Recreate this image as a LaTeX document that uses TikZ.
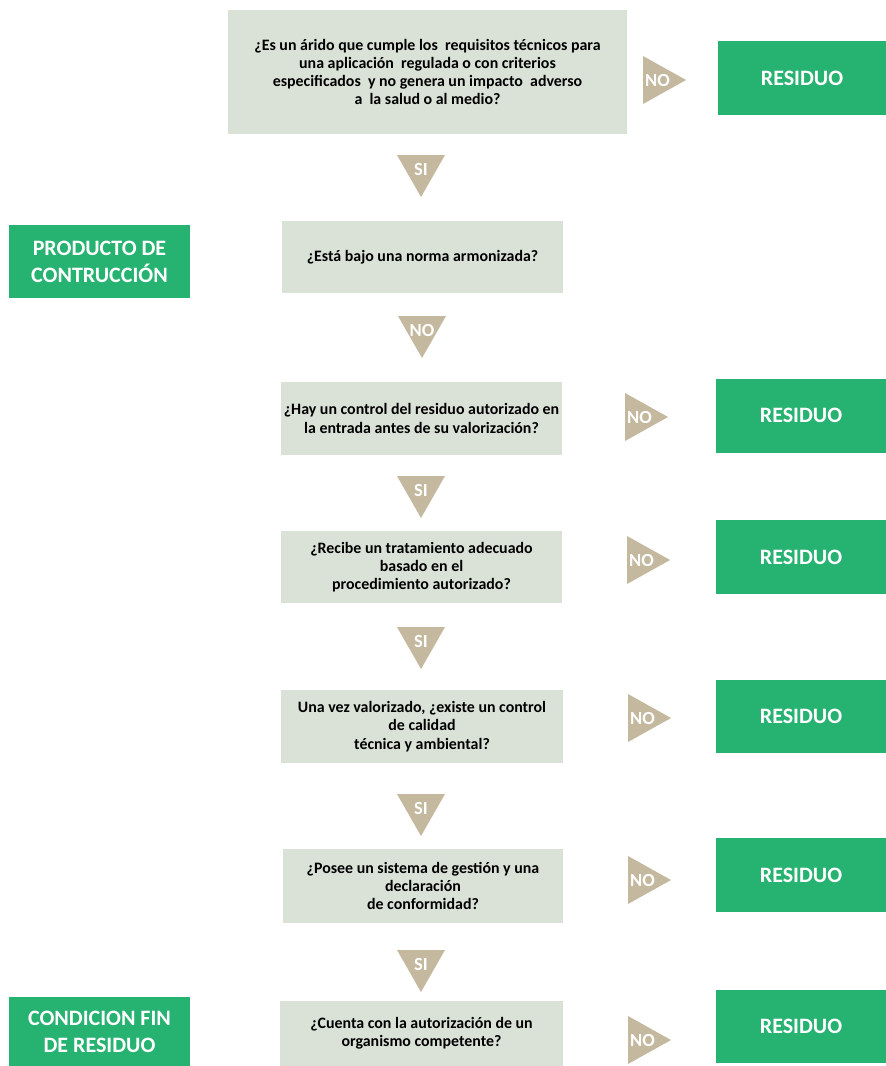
\documentclass[tikz,border=0pt]{standalone}
\usepackage{fontspec}
\setmainfont{Carlito}
\definecolor{qfill}{RGB}{218,226,216}
\definecolor{resgreen}{RGB}{38,178,112}
\definecolor{tan}{RGB}{196,184,158}
\tikzset{
  question/.style={fill=qfill, draw=none, align=center, inner sep=0pt,
    font=\bfseries\fontsize{15.9}{18.3}\selectfont, text=black},
  outcome/.style={fill=resgreen, draw=none, align=center, inner sep=0pt,
    font=\bfseries\fontsize{22}{27}\selectfont, text=white},
  tritext/.style={font=\bfseries\fontsize{18.5}{18.5}\selectfont, text=white, inner sep=0pt},
}
% downward "SI"/"NO" arrow: centre x, top y, name, label
\newcommand\downtri[4]{%
  \fill[tan] (#1-24,#2) -- (#1+24,#2) -- (#1,#2+42) -- cycle;
  \node[tritext] (#3) at (#1,#2+14.5) {#4};}
% right-pointing "NO" arrow: left x, centre y, name
\newcommand\righttri[3]{%
  \fill[tan] (#1,#2-24) -- (#1,#2+24) -- (#1+43,#2) -- cycle;
  \node[tritext] (#3) at (#1+14.5,#2) {NO};}
\begin{document}
\begin{tikzpicture}[x=1pt,y=-1pt]
  \useasboundingbox[fill=white] (0,0) rectangle (886,1066);

  % questions
  \node[question, minimum width=399pt, minimum height=124pt] (q1) at (427.5,72)
    {¿Es un árido que cumple los~ requisitos técnicos para\\
     una aplicación~ regulada o con criterios\\
     especificados~ y no genera un impacto~ adverso\\
     a~ la salud o al medio?};
  \node[question, minimum width=281pt, minimum height=72pt] (q2) at (422.5,257)
    {¿Está bajo una norma armonizada?};
  \node[question, minimum width=281pt, minimum height=73pt] (q3) at (421.5,418.5)
    {¿Hay un control del residuo autorizado en\\
     la entrada antes de su valorización?};
  \node[question, minimum width=281pt, minimum height=72pt] (q4) at (421.5,567)
    {¿Recibe un tratamiento adecuado\\ basado en el\\ procedimiento autorizado?};
  \node[question, minimum width=282pt, minimum height=73pt] (q5) at (422,726.5)
    {Una vez valorizado, ¿existe un control\\ de calidad\\ técnica y ambiental?};
  \node[question, minimum width=280pt, minimum height=74pt] (q6) at (423,886)
    {¿Posee un sistema de gestión y una\\ declaración\\ de conformidad?};
  \node[question, minimum width=283pt, minimum height=65pt] (q7) at (421.5,1033.5)
    {¿Cuenta con la autorización de un\\ organismo competente?};

  % outcomes
  \node[outcome, minimum width=181pt, minimum height=73pt] (prod) at (99.5,261.5)
    {PRODUCTO DE\\ CONTRUCCIÓN};
  \node[outcome, minimum width=181pt, minimum height=69pt] (fin) at (99.5,1031.5)
    {CONDICION FIN\\ DE RESIDUO};
  \node[outcome, minimum width=168pt, minimum height=74pt] (r1) at (802,78) {RESIDUO};
  \node[outcome, minimum width=170pt, minimum height=74pt] (r3) at (801,415.5) {RESIDUO};
  \node[outcome, minimum width=170pt, minimum height=74pt] (r4) at (801,557) {RESIDUO};
  \node[outcome, minimum width=170pt, minimum height=73pt] (r5) at (801,716) {RESIDUO};
  \node[outcome, minimum width=170pt, minimum height=74pt] (r6) at (801,875) {RESIDUO};
  \node[outcome, minimum width=170pt, minimum height=73pt] (r7) at (801,1026.5) {RESIDUO};

  % flow arrows
  \downtri{421}{155}{s1}{SI}
  \downtri{422}{316}{n2}{NO}
  \downtri{421}{476}{s3}{SI}
  \downtri{421}{627}{s4}{SI}
  \downtri{421}{794}{s5}{SI}
  \downtri{421}{950}{s6}{SI}

  \righttri{643}{80}{n1}
  \righttri{625}{417}{n3}
  \righttri{627}{560}{n4}
  \righttri{628}{718}{n5}
  \righttri{628}{880}{n6}
  \righttri{628}{1040}{n7}
\end{tikzpicture}
\end{document}
